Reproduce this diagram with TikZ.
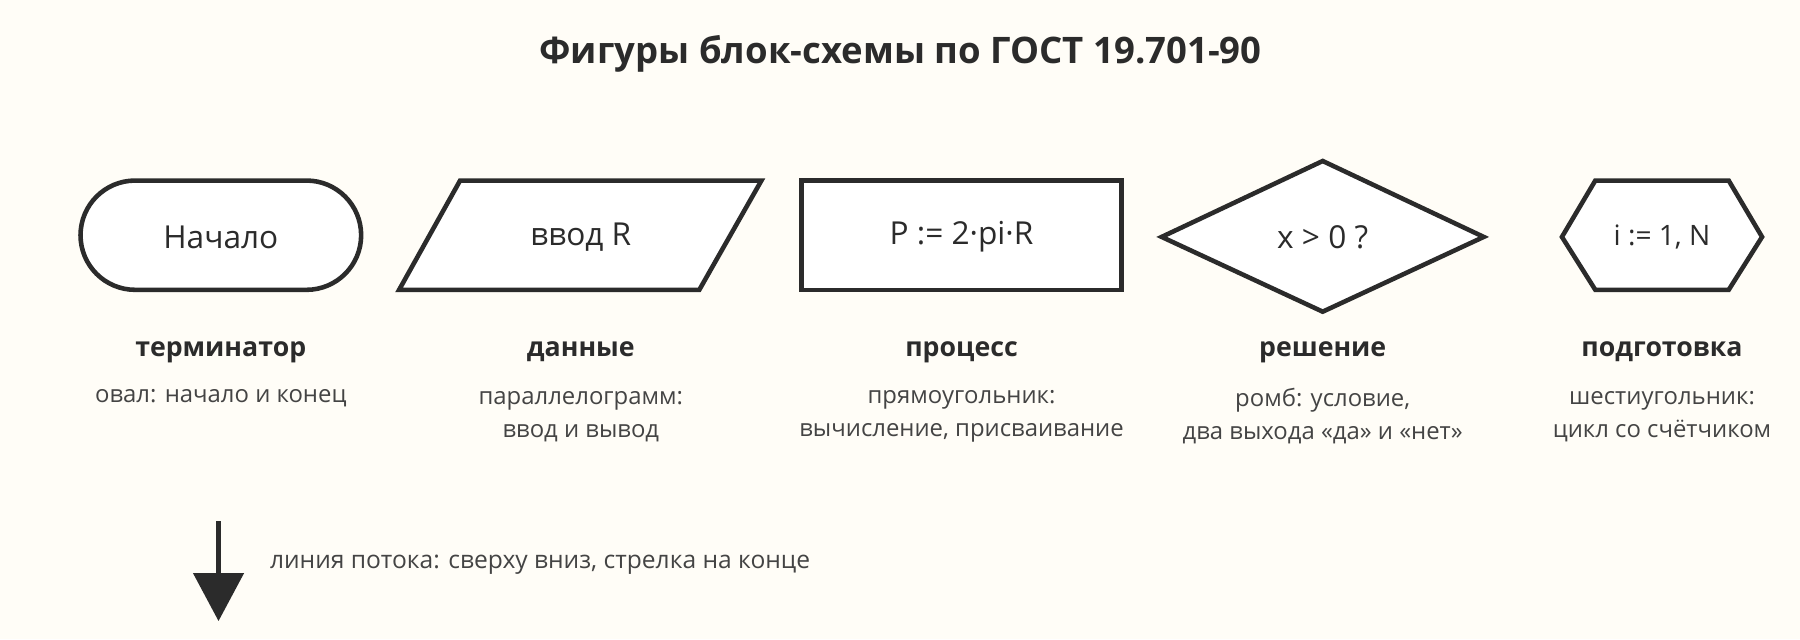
\documentclass[tikz,border=0pt]{standalone}
\usepackage{fontspec}
\setmainfont{Open Sans}
\usetikzlibrary{arrows.meta}
\definecolor{ink}{HTML}{2B2B2B}
\definecolor{paper}{HTML}{FFFDF7}
\definecolor{grey}{HTML}{444444}
\tikzset{
  shape line/.style={draw=ink, line width=1.3pt, fill=white},
  inner/.style={text=ink, font=\fontsize{9}{10}\selectfont},
  caption/.style={text=ink, font=\bfseries\fontsize{7.6}{9}\selectfont},
  note/.style={text=grey, font=\fontsize{6.8}{9.4}\selectfont, align=center},
}
\begin{document}
\begin{tikzpicture}[x=0.0115cm, y=-0.0115cm]
\fill[paper] (0,0) rectangle (1565,556);
\useasboundingbox (0,0) rectangle (1565,556);
\node[text=ink, font=\bfseries\fontsize{10.4}{12}\selectfont] (title) at (783,47) {Фигуры блок-схемы по ГОСТ 19.701-90};
% terminator
\draw[shape line, rounded corners=47.5*0.0115cm] (70,157) rectangle (314,252);
\node[inner] (term) at (192,206) {Начало};
% data
\draw[shape line] (400,157) -- (662,157) -- (608,252) -- (347,252) -- cycle;
\node[inner] (data) at (505,206) {ввод R};
% process
\draw[shape line] (697,157) rectangle (975,252);
\node[inner] (proc) at (836,206) {P := 2·pi·R};
% decision
\draw[shape line] (1010,206) -- (1150,140) -- (1290,206) -- (1150,271) -- cycle;
\node[inner] (dec) at (1150,206) {x > 0 ?};
% preparation
\draw[shape line] (1358,206) -- (1387,157) -- (1503,157) -- (1532,206) -- (1503,252) -- (1387,252) -- cycle;
\node[inner, font=\fontsize{8}{9}\selectfont] (prep) at (1445,206) {i := 1, N};
% captions
\node[caption] (c1) at (192,306) {терминатор};
\node[caption] (c2) at (505,306) {данные};
\node[caption] (c3) at (836,306) {процесс};
\node[caption] (c4) at (1150,306) {решение};
\node[caption] (c5) at (1445,306) {подготовка};
\node[note] (n1) at (192,346) {овал: начало и конец};
\node[note] (n2) at (505,362) {параллелограмм:\\ввод и вывод};
\node[note] (n3) at (836,362) {прямоугольник:\\вычисление, присваивание};
\node[note] (n4) at (1150,362) {ромб: условие,\\два выхода «да» и «нет»};
\node[note] (n5) at (1445,362) {шестиугольник:\\цикл со счётчиком};
% flow line
\coordinate (flowtop) at (190,453);
\coordinate (flowend) at (190,540);
\draw[ink, line width=1.3pt, -{Triangle[length=0.48cm, width=0.5cm]}] (flowtop) -- (flowend);
\node[note, anchor=west, font=\fontsize{7}{9}\selectfont] (flow) at (224,491) {линия потока: сверху вниз, стрелка на конце};
\end{tikzpicture}
\end{document}
